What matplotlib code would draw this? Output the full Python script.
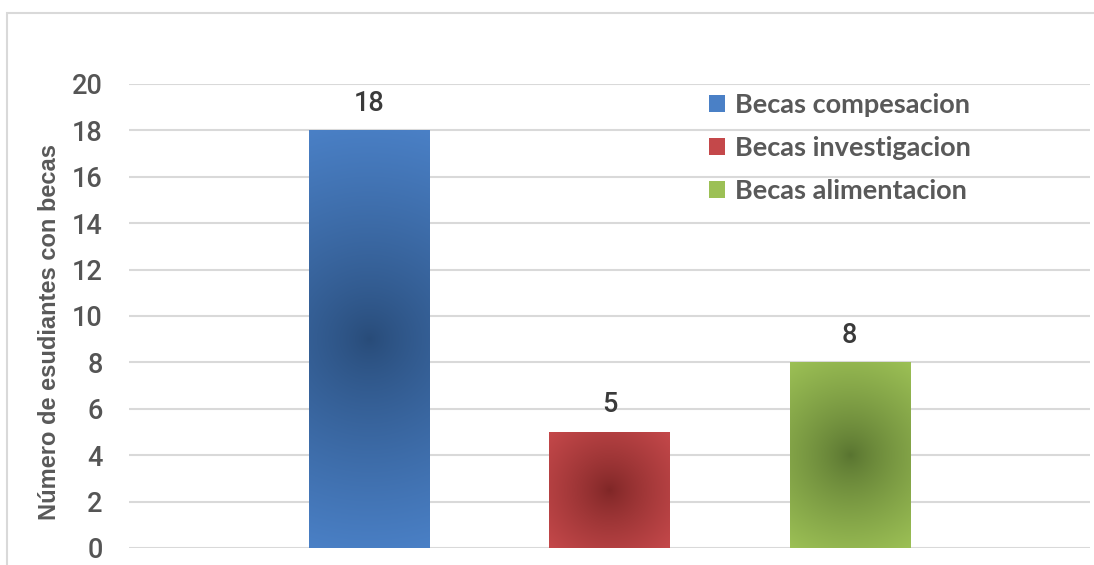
import numpy as np
import matplotlib.pyplot as plt
from matplotlib.patches import Rectangle
from matplotlib.colors import to_rgb

# datos
categorias = ['Becas compesacion', 'Becas investigacion', 'Becas alimentacion']
valores = [18, 5, 8]
colores_borde = ['#4a80c6', '#c4484a', '#9cc055']
colores_centro = ['#284b78', '#7e2626', '#587330']
yticks = [0, 2, 4, 6, 8, 10, 12, 14, 16, 18, 20]

fig = plt.figure(figsize=(10.94, 5.65), dpi=100)
ax = fig.add_axes([129 / 1094, 17 / 565, 961 / 1094, 464 / 565])

ancho = 0.5
ax.set_xlim(-1, 3)
ax.set_ylim(0, 20)

# tamaño en pixeles de una unidad en x / y
px_x = 961 / 4
px_y = 464 / 20


def barra_gradiente(x, h, c_borde, c_centro):
    rect = Rectangle((x - ancho / 2, 0), ancho, h, facecolor='none', edgecolor='none')
    ax.add_patch(rect)
    w_px = ancho * px_x
    h_px = h * px_y
    nx, ny = int(w_px), int(h_px)
    xx, yy = np.meshgrid(np.linspace(-w_px / 2, w_px / 2, nx),
                         np.linspace(-h_px / 2, h_px / 2, ny))
    d = np.sqrt(xx ** 2 + yy ** 2)
    t = np.clip(d / np.sqrt((w_px / 2) ** 2 + (h_px / 2) ** 2), 0, 1)
    t = t ** 0.8
    cb = np.array(to_rgb(c_borde))
    cc = np.array(to_rgb(c_centro))
    img = cc[None, None, :] * (1 - t[..., None]) + cb[None, None, :] * t[..., None]
    im = ax.imshow(img, extent=(x - ancho / 2, x + ancho / 2, 0, h),
                   origin='lower', aspect='auto', interpolation='bilinear', zorder=2)
    im.set_clip_path(rect)


fuente_num = {'family': 'Roboto', 'weight': 500}

for i in range(len(valores)):
    barra_gradiente(i, valores[i], colores_borde[i], colores_centro[i])
    ax.text(i, valores[i] + 0.85, str(valores[i]), ha='center', va='baseline',
            fontsize=19.5, color='#3a3a3a', **fuente_num)

ax.set_aspect('auto')
ax.set_xlim(-1, 3)
ax.set_ylim(0, 20)
ax.set_yticks(yticks)
ax.set_xticks([])
ax.grid(axis='y', color='#d9d9d9', linewidth=1.5, zorder=0)
ax.set_axisbelow(True)
for s in ax.spines.values():
    s.set_visible(False)
ax.tick_params(axis='y', length=0, pad=19, labelsize=19.5, labelcolor='#555555')
for lbl in ax.get_yticklabels():
    lbl.set_family(fuente_num['family'])
    lbl.set_weight(fuente_num['weight'])

ax.set_ylabel('Número de esudiantes con becas', fontsize=17, fontweight='bold',
              color='#595959', family='Liberation Sans')
ax.yaxis.set_label_coords(-0.071, 0.4655)

# leyenda
handles = [Rectangle((0, 0), 1, 1, facecolor=colores_borde[i], edgecolor='none')
           for i in range(len(categorias))]
leg = ax.legend(handles, categorias, loc='upper left', bbox_to_anchor=(0.6035, 0.98),
                frameon=False, handlelength=0.6, handleheight=0.6, handletextpad=0.35,
                labelspacing=0.7, borderpad=0, borderaxespad=0,
                prop={'family': 'Lato', 'weight': 'bold', 'size': 19.5})
for txt in leg.get_texts():
    txt.set_color('#595959')

# borde exterior
fig.add_artist(Rectangle((7 / 1094, -0.1), 1.2, 1.1 - 13 / 565, transform=fig.transFigure,
                         facecolor='none', edgecolor='#d9d9d9', linewidth=1.5))

fig.savefig('out.png', dpi=100)
